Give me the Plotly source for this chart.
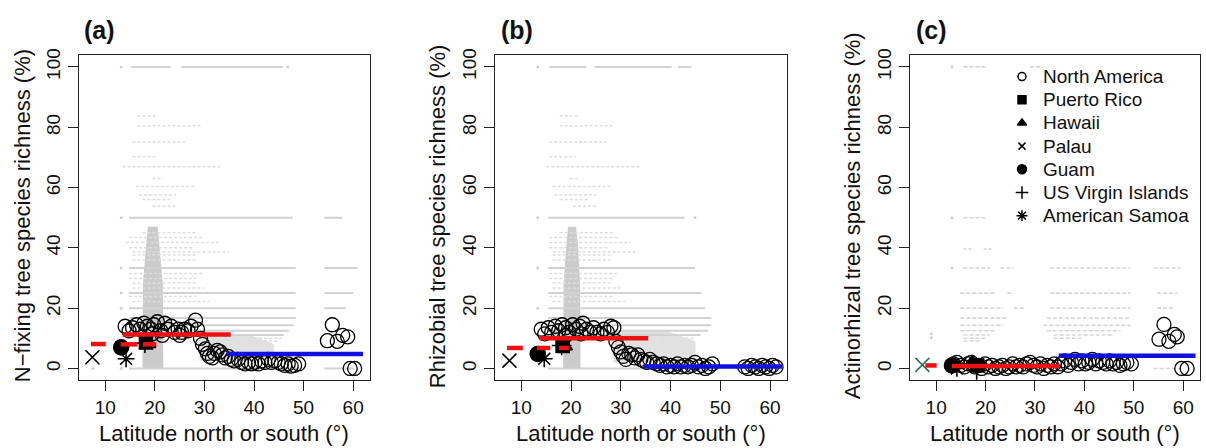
import plotly.graph_objects as go

W, H = 1206, 448

# ---------------- data ----------------
# North America (open circles): latitude, percent
na_a_lat = [14.0, 14.8, 15.5, 16.3, 17.0, 17.8, 18.5, 19.2, 19.8, 20.5, 21.2, 22.0, 22.6, 23.3, 24.0, 24.7,
            25.4, 26.0, 26.7, 27.3, 28.2, 28.6, 19.5, 21.5, 25.0,
            29.2, 29.6, 30.2, 30.6, 31.0, 31.6, 32.0, 32.6, 33.2, 33.6, 34.2, 34.8, 35.4, 36.0,
            36.8, 37.5, 38.2, 38.9, 39.5, 40.2, 40.9, 41.5, 42.2, 42.9, 43.5, 44.2, 44.9, 45.5, 46.2,
            46.9, 47.5, 48.2, 49.0,
            55.8, 54.8, 56.8, 57.9, 58.9, 59.4, 60.3]
na_a_val = [14.0, 12.5, 13.5, 14.5, 13.0, 15.0, 14.0, 13.0, 14.5, 15.5, 12.5, 15.0, 13.0, 14.0, 12.0, 13.0,
            12.0, 13.0, 12.5, 14.0, 16.0, 13.0, 11.5, 11.0, 11.0,
            10.0, 8.0, 6.5, 5.0, 4.0, 3.5, 5.0, 6.0, 5.5, 4.5, 3.5, 4.0, 3.0, 2.5,
            3.0, 2.0, 1.5, 2.0, 1.5, 2.0, 1.5, 2.5, 2.0, 3.0, 2.0, 2.5, 2.0, 1.5, 1.0,
            1.5, 0.8, 1.0, 1.5,
            14.5, 9.2, 9.0, 11.0, 10.5, 0.0, 0.0]

na_b_lat = [14.0, 14.7, 15.4, 16.1, 16.8, 17.5, 18.2, 18.9, 19.6, 20.3, 21.0, 21.7, 22.4, 23.1, 23.8, 24.5,
            25.2, 25.9, 26.6, 27.3, 28.0, 28.6, 19.0, 22.0,
            29.0, 29.5, 30.0, 30.5, 31.0, 31.6, 32.2, 32.8, 33.4, 34.0, 34.6, 35.2, 35.8,
            36.5, 37.2, 37.9, 38.6, 39.3, 40.0, 40.7, 41.4, 42.1, 42.8, 43.5, 44.2, 44.9, 45.6, 46.3,
            47.0, 47.7, 48.4,
            54.9, 55.6, 56.3, 57.0, 57.7, 58.4, 59.1, 59.8, 60.5, 61.2]
na_b_val = [13.0, 11.5, 13.5, 12.0, 14.0, 12.5, 14.5, 13.5, 12.0, 14.5, 13.0, 14.0, 15.0, 13.0, 12.0, 13.5,
            12.0, 11.5, 13.0, 12.0, 14.0, 13.5, 11.0, 11.5,
            9.0, 7.0, 5.5, 4.0, 3.0, 5.0, 4.5, 3.5, 4.5, 3.0, 2.5, 2.0, 3.0,
            2.0, 1.5, 1.0, 1.5, 0.5, 1.0, 0.5, 1.5, 0.5, 1.0, 0.5, 1.0, 2.0, 0.5, 1.0,
            0.0, 0.5, 1.5,
            0.5, 0.0, 1.0, 0.5, 0.0, 1.0, 0.5, 0.0, 1.0, 0.5]

na_c_lat = [13.5, 14.2, 15.0, 15.7, 16.4, 17.1, 17.8, 18.5, 19.2, 19.9, 20.6, 21.3, 22.0, 22.7, 23.4, 24.1,
            24.8, 25.5, 26.2, 26.9, 27.6, 28.3, 29.0, 29.7, 30.4, 31.1, 31.8, 32.5, 33.2, 33.9, 34.6,
            35.3, 36.0, 36.7, 37.4, 38.1, 38.8, 39.5, 40.2, 40.9, 41.6, 42.3, 43.0, 43.7, 44.4, 45.1,
            45.8, 46.5, 47.2, 47.9, 48.6, 49.5,
            56.1, 55.1, 57.1, 58.2, 58.8, 59.7, 60.8]
na_c_val = [1.5, 2.0, 1.0, 0.5, 1.5, 2.0, 0.5, 1.0, 0.0, 1.5, 0.5, 1.0, 0.0, 0.5, 1.0, 0.0,
            0.5, 1.5, 0.5, 1.0, 0.5, 1.5, 2.0, 1.0, 0.5, 1.5, 0.0, 1.0, 0.5, 1.5, 0.5,
            1.5, 2.5, 1.0, 2.0, 3.0, 1.5, 2.5, 1.5, 2.0, 3.0, 1.5, 2.5, 2.0, 1.5, 2.5,
            1.5, 2.0, 1.0, 1.5, 2.0, 1.5,
            14.6, 9.7, 9.0, 11.3, 10.5, 0.0, 0.0]

# Island regions (lat, value) per panel a, b, c
regions = ["Puerto Rico", "Hawaii", "Palau", "Guam", "US Virgin Islands", "American Samoa"]
reg_lat_a = [18.2, 18.8, 7.4, 13.2, 18.0, 14.2]
reg_val_a = [8.6, 8.0, 3.7, 7.0, 8.4, 3.2]
reg_lat_b = [18.3, 18.9, 7.6, 13.3, 18.1, 14.6]
reg_val_b = [7.5, 7.2, 2.6, 4.8, 7.6, 3.2]
reg_lat_c = [18.3, 17.3, 7.2, 13.2, 18.2, 14.2]
reg_val_c = [1.0, 2.2, 1.2, 1.0, -0.5, 0.0]

# Tropical (red) and temperate (blue) mean segments: lat start, lat end, value
red_a_x0 = [13.5, 7.1, 13.1, 17.6]
red_a_x1 = [35.3, 10.1, 16.5, 20.3]
red_a_v = [11.3, 8.1, 8.0, 8.0]
red_b_x0 = [13.6, 7.1, 13.1, 17.6]
red_b_x1 = [35.5, 10.3, 15.8, 19.6]
red_b_v = [10.0, 6.8, 6.8, 6.8]
red_c_x0 = [13.2, 7.8]
red_c_x1 = [35.0, 10.1]
red_c_v = [0.8, 1.0]
blue_a = [34.5, 62.0, 4.8]
blue_b = [34.5, 62.4, 0.65]
blue_c = [34.8, 62.5, 4.2]

# Background plot-level data (gray): rows of plots at value, lat from..to
a_row_v = [100, 100, 50, 50, 33.3, 33.3, 25, 25, 20, 20, 0, 0, 16.7, 14.3, 12.5, 11.1]
a_row_x0 = [15.2, 25.3, 14.8, 54.2, 14.8, 54.2, 14.8, 54.2, 14.8, 54.2, 14.8, 54.2, 14.8, 14.8, 15.2, 15.2]
a_row_x1 = [23.2, 45.8, 47.8, 57.8, 48.4, 60.9, 48.4, 60.0, 48.4, 58.5, 49.3, 60.2, 48.4, 48.0, 47.0, 46.0]
a_sp_v = [83.8, 80.5, 75.1, 70.2, 66.9, 63, 60.3, 57.5, 56, 53.8,
          45, 43.4, 41.8, 40, 38.6, 37.6, 36, 31.5, 29.8, 28.3, 26.7, 23.9, 22.2, 10, 9.1, 8.3]
a_sp_x0 = [16.5, 16.5, 15.5, 15.5, 13.5, 19.5, 16.2, 16.8, 17.5, 19.5,
           17.5, 14.8, 14.2, 14.8, 15.5, 15.5, 15.5, 14.8, 14.8, 15.5, 15.5, 14.8, 15.5, 38, 38, 39]
a_sp_x1 = [20.0, 29.5, 26.6, 20.5, 33.6, 21.6, 28.0, 24.3, 23.0, 24.5,
           28.3, 29.6, 33.0, 27.6, 35.0, 28.3, 28.3, 29.6, 28.3, 28.3, 30.0, 28.3, 31.0, 46, 45, 44]
a_dense_lat = [17.5, 17.6, 18.2, 18.6, 20.6, 21.0, 21.6, 21.7]
a_dense_val = [0, 28, 40, 47, 47, 40, 28, 0]
a_block_lat = [29.0, 29.0, 39.5, 44.0, 44.0]
a_block_val = [2.5, 11.0, 11.0, 8.0, 2.5]

b_row_v = [100, 100, 100, 50, 33.3, 25, 20, 0, 16.7, 14.3, 12.5, 11.1]
b_row_x0 = [15.6, 24.7, 41.5, 15.4, 15.4, 15.4, 15.4, 15.4, 15.4, 15.4, 15.4, 15.4]
b_row_x1 = [23.0, 40.2, 44.2, 42.8, 44.9, 46.2, 46.9, 48.5, 48.2, 48.2, 47.5, 46.0]
b_sp_v = [83.8, 80.5, 75.1, 70.2, 66.9, 63, 60.3, 57.5, 56, 53.8,
          45, 43.4, 41.8, 40, 38.6, 37.6, 36, 31.5, 29.8, 28.3, 26.7, 23.9, 22.2, 10, 9.1]
b_sp_x0 = [17.7, 17.7, 15.6, 15.6, 15.0, 19.7, 16.3, 16.6, 17.7, 20.4,
           17.7, 15.6, 15.6, 15.6, 16.3, 16.3, 16.3, 15.6, 15.6, 16.3, 16.3, 15.6, 16.3, 38, 38]
b_sp_x1 = [21.4, 28.4, 27.1, 21.0, 33.8, 21.7, 28.4, 25.0, 23.7, 25.0,
           28.4, 29.6, 32.0, 27.6, 33.5, 28.4, 28.4, 29.6, 28.4, 28.4, 30.0, 28.4, 31.0, 45, 44]
b_dense_lat = [18.4, 18.5, 19.0, 19.4, 21.0, 21.4, 21.8, 21.9]
b_dense_val = [0, 28, 40, 47, 47, 40, 28, 0]
b_block_lat = [28.5, 28.5, 39.0, 45.0, 45.0]
b_block_val = [2.0, 12.5, 12.5, 9.0, 2.0]

c_row_v = [100, 100, 50, 33.3, 33.3, 33.3, 33.3, 25, 25, 25, 25, 20, 20, 20, 20,
           16.7, 16.7, 14.3, 14.3, 12.5, 12.5, 11.1, 11.1, 10, 10, 9.1, 0]
c_row_x0 = [15.5, 29.0, 15.5, 15.5, 23.0, 33.1, 54.0, 14.9, 24.4, 33.1, 54.7, 14.9, 25.7, 33.1, 54.7,
            14.9, 32.4, 14.9, 31.7, 14.9, 32.4, 15.5, 33.8, 15.5, 33.8, 15.5, 54.0]
c_row_x1 = [20.3, 31.1, 20.3, 20.9, 25.7, 49.3, 59.5, 22.2, 25.7, 49.3, 58.8, 23.6, 27.7, 49.3, 58.1,
            24.3, 49.3, 23.6, 49.3, 22.2, 47.3, 20.9, 46.0, 20.3, 39.3, 19.0, 59.5]
c_sp_v = [39.6, 39.6]
c_sp_x0 = [15.5, 19.6]
c_sp_x1 = [17.6, 21.6]

# isolated gray plots
dot_lat_a = [13.2, 46.8, 13.2, 13.2, 13.2, 13.2, 13.2, 7.5]
dot_val_a = [100, 100, 50, 33.3, 25, 20, 0, 0]
dot_lat_b = [13.3, 13.3, 13.3, 13.3, 44.9]
dot_val_b = [100, 50, 33.3, 20, 50]
dot_lat_c = [13.2, 13.2, 13.2, 9.0, 9.0]
dot_val_c = [100, 50, 33.3, 11.5, 10.2]

x_ticks = [10, 20, 30, 40, 50, 60]
y_ticks = [0, 20, 40, 60, 80, 100]
panel_labels = ["(a)", "(b)", "(c)"]
y_titles = ["N\u2212fixing tree species richness (%)",
            "Rhizobial tree species richness (%)",
            "Actinorhizal tree species richness (%)"]
x_title = "Latitude north or south (\u00b0)"
legend_labels = ["North America"] + regions

# ---------------- layout constants ----------------
FONT = "Liberation Sans"
x_dom = [(79 / W, 370 / W), (495 / W, 787 / W), (910 / W, 1200 / W)]
y_dom = ((H - 379) / H, (H - 49.5) / H)
X_RANGE = [4.7, 63.4]
Y_RANGE = [-3.8, 104.0]

reg_symbols = ["square", "triangle-up", "x-thin-open", "circle", "cross-thin-open", "asterisk-open"]
reg_sizes = [13, 12, 14, 15, 14, 14]
leg_symbols = ["circle-open"] + reg_symbols
leg_sizes = [8, 8, 8, 7, 9, 9, 9]

fig = go.Figure()


def segs(v, x0, x1):
    xs, ys = [], []
    for yy, a, b in zip(v, x0, x1):
        xs += [a, b, None]
        ys += [yy, yy, None]
    return xs, ys


panels = [
    dict(na=(na_a_lat, na_a_val), reg=(reg_lat_a, reg_val_a), red=(red_a_x0, red_a_x1, red_a_v), blue=blue_a,
         rows=(a_row_v, a_row_x0, a_row_x1), sp=(a_sp_v, a_sp_x0, a_sp_x1),
         fills=[(a_block_lat, a_block_val), (a_dense_lat, a_dense_val)], dots=(dot_lat_a, dot_val_a)),
    dict(na=(na_b_lat, na_b_val), reg=(reg_lat_b, reg_val_b), red=(red_b_x0, red_b_x1, red_b_v), blue=blue_b,
         rows=(b_row_v, b_row_x0, b_row_x1), sp=(b_sp_v, b_sp_x0, b_sp_x1),
         fills=[(b_block_lat, b_block_val), (b_dense_lat, b_dense_val)], dots=(dot_lat_b, dot_val_b)),
    dict(na=(na_c_lat, na_c_val), reg=(reg_lat_c, reg_val_c), red=(red_c_x0, red_c_x1, red_c_v), blue=blue_c,
         rows=(c_row_v, c_row_x0, c_row_x1), sp=(c_sp_v, c_sp_x0, c_sp_x1), fills=[],
         dots=(dot_lat_c, dot_val_c)),
]

for i, p in enumerate(panels):
    xa = "x" if i == 0 else f"x{i + 1}"
    ya = "y" if i == 0 else f"y{i + 1}"
    common = dict(xaxis=xa, yaxis=ya, hoverinfo="skip", showlegend=False)
    # gray background
    for j, (fx, fy) in enumerate(p["fills"]):
        fc = "rgba(200,200,200,0.55)" if j == 0 else "rgba(190,190,190,0.8)"
        fig.add_trace(go.Scatter(x=fx, y=fy, mode="lines", fill="toself", fillcolor=fc,
                                 line=dict(width=0), **common))
    xs, ys = segs(*p["sp"])
    sp_col = "#dedede" if i < 2 else "#d6d6d6"
    fig.add_trace(go.Scatter(x=xs, y=ys, mode="lines", line=dict(color=sp_col, width=1.5, dash="3px,2px"),
                             **common))
    xs, ys = segs(*p["rows"])
    if i < 2:
        row_line = dict(color="#d2d2d2", width=2.0)
    else:
        row_line = dict(color="#d6d6d6", width=1.6, dash="4px,2px")
    fig.add_trace(go.Scatter(x=xs, y=ys, mode="lines", line=row_line, **common))
    fig.add_trace(go.Scatter(x=p["dots"][0], y=p["dots"][1], mode="markers",
                             marker=dict(color="#d0d0d0", size=3), **common))
    # North America
    fig.add_trace(go.Scatter(x=p["na"][0], y=p["na"][1], mode="markers",
                             marker=dict(symbol="circle-open", size=14, color="black", line=dict(width=1.3)),
                             **common))
    # islands
    for k in range(len(regions)):
        col = "black"
        if i == 2 and regions[k] == "Palau":
            col = "#2f7060"
        fig.add_trace(go.Scatter(x=[p["reg"][0][k]], y=[p["reg"][1][k]], mode="markers",
                                 marker=dict(symbol=reg_symbols[k], size=reg_sizes[k], color=col,
                                             line=dict(width=1.6, color=col)), **common))
    # means
    xs, ys = segs(p["red"][2], p["red"][0], p["red"][1])
    fig.add_trace(go.Scatter(x=xs, y=ys, mode="lines", line=dict(color="#ee1111", width=4.5), **common))
    b = p["blue"]
    fig.add_trace(go.Scatter(x=[b[0], b[1]], y=[b[2], b[2]], mode="lines",
                             line=dict(color="#1010dd", width=4.5), **common))

# legend on a full-figure pixel axis (no data, layout only)
leg_x, leg_y0, leg_dy = 1022, 71.5, 23.5
for k, lab in enumerate(legend_labels):
    fig.add_trace(go.Scatter(x=[leg_x], y=[leg_y0 + k * leg_dy], mode="markers",
                             marker=dict(symbol=leg_symbols[k], size=leg_sizes[k], color="black",
                                         line=dict(width=1.5, color="black")),
                             xaxis="x4", yaxis="y4", hoverinfo="skip", showlegend=False))
    fig.add_annotation(x=(leg_x + 19) / W, y=1 - (leg_y0 + k * leg_dy) / H, xref="paper", yref="paper",
                       text=lab, showarrow=False, xanchor="left", yanchor="middle",
                       font=dict(family=FONT, size=19, color="#111"))

axis_common = dict(showgrid=False, zeroline=False, showline=True, mirror=True, linecolor="#222", linewidth=1.3,
                   ticks="outside", ticklen=10, tickwidth=1.3, tickcolor="#222",
                   tickfont=dict(family=FONT, size=19, color="#111"))
layout = dict(width=W, height=H, margin=dict(l=0, r=0, t=0, b=0, pad=0),
              paper_bgcolor="white", plot_bgcolor="rgba(0,0,0,0)", showlegend=False)
for i in range(3):
    xk = "xaxis" if i == 0 else f"xaxis{i + 1}"
    yk = "yaxis" if i == 0 else f"yaxis{i + 1}"
    ya = "y" if i == 0 else f"y{i + 1}"
    xa = "x" if i == 0 else f"x{i + 1}"
    layout[xk] = dict(domain=list(x_dom[i]), range=X_RANGE, anchor=ya, tickvals=x_ticks, **axis_common)
    layout[yk] = dict(domain=list(y_dom), range=Y_RANGE, anchor=xa, tickvals=y_ticks, tickangle=-90,
                      **axis_common)
layout["xaxis4"] = dict(domain=[0, 1], range=[0, W], anchor="y4", visible=False, fixedrange=True)
layout["yaxis4"] = dict(domain=[0, 1], range=[H, 0], anchor="x4", visible=False, fixedrange=True)
fig.update_layout(**layout)

title_x = [22, 437, 852]
label_x = [82, 499, 914]
for i in range(3):
    cx = (x_dom[i][0] + x_dom[i][1]) / 2
    fig.add_annotation(x=cx, y=1 - 433 / H, xref="paper", yref="paper", text=x_title, showarrow=False,
                       xanchor="center", yanchor="middle", font=dict(family=FONT, size=22, color="#111"))
    fig.add_annotation(x=title_x[i] / W, y=1 - 213 / H, xref="paper", yref="paper", text=y_titles[i],
                       showarrow=False, textangle=-90, xanchor="center", yanchor="middle",
                       font=dict(family=FONT, size=22, color="#111"))
    fig.add_annotation(x=label_x[i] / W, y=1 - 24 / H, xref="paper", yref="paper",
                       text="<b>" + panel_labels[i] + "</b>", showarrow=False, xanchor="left",
                       yanchor="middle", font=dict(family=FONT, size=25, color="#111"))

fig.write_html("out.html")
